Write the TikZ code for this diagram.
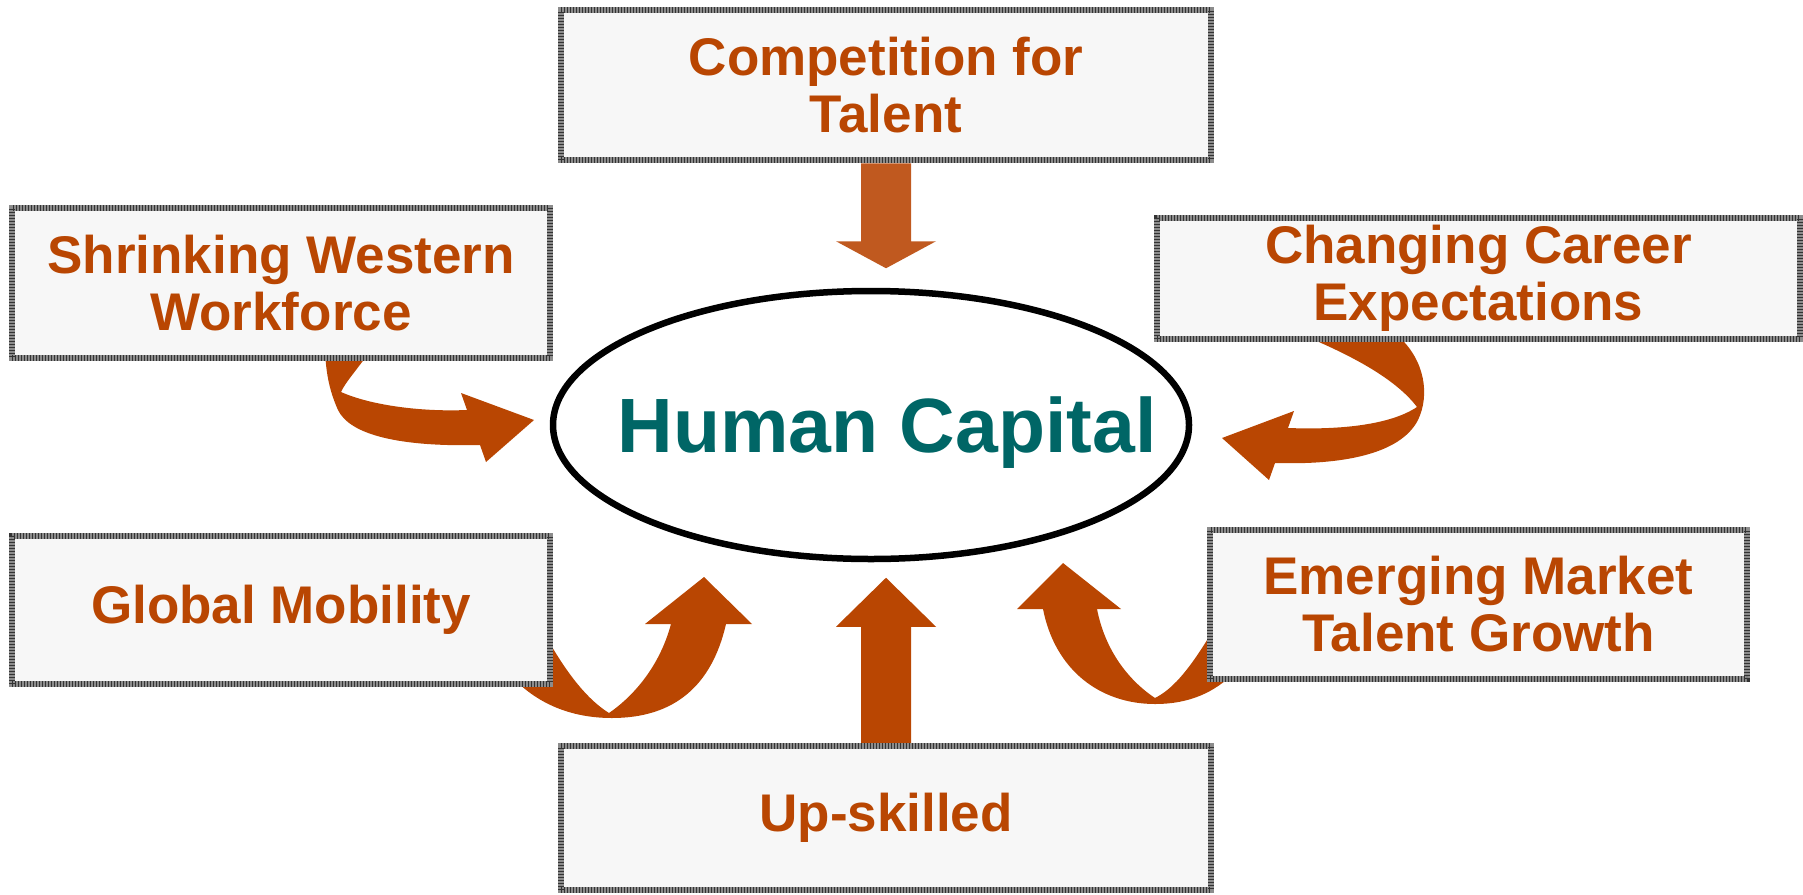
\documentclass[tikz,border=0pt]{standalone}
\usepackage{fontspec}
\setmainfont{Liberation Sans}
\usepackage{xcolor}
\usepackage{tikz}
\usetikzlibrary{shapes.geometric}
\usetikzlibrary{backgrounds}
\definecolor{rust}{HTML}{B94602}
\definecolor{rustlight}{HTML}{C0591F}
\definecolor{hcteal}{HTML}{006666}
\definecolor{boxfill}{HTML}{F7F7F7}
\definecolor{boxline}{HTML}{8C8C8C}
\tikzstyle{factor}=[draw=boxline, line width=6.5pt, fill=boxfill, inner sep=0pt, align=center, text=rust, font=\fontsize{53}{57}\selectfont\bfseries,
  postaction={draw=black!80, line width=6.5pt, dash pattern=on 1pt off 2pt}]
\tikzstyle{flow}=[fill=rust]
\tikzstyle{flowlight}=[fill=rustlight]

\begin{document}
\begin{tikzpicture}[x=1pt,y=-1pt]
\useasboundingbox (0,0) rectangle (1803,894);
% centre
\node[draw=black, line width=6.5pt, ellipse, minimum width=636pt, minimum height=268pt, inner sep=0pt] (hc) at (871,425) {};
\node[anchor=base, text=hcteal, font=\fontsize{77}{80}\selectfont\bfseries] (hctext) at (887,452) {Human Capital};
% the six drivers
\node[factor, minimum width=650pt, minimum height=150pt] (talent) at (886,85) {Competition for\\Talent};
\node[factor, minimum width=538pt, minimum height=150pt] (shrink) at (281,283) {Shrinking Western\\Workforce};
\node[factor, minimum width=643pt, minimum height=121pt] (career) at (1478.5,278.5) {Changing Career\\Expectations};
\node[factor, minimum width=538pt, minimum height=148pt] (mobility) at (281,610) {Global Mobility};
\node[factor, minimum width=537pt, minimum height=149pt] (emerging) at (1478.5,604.5) {Emerging Market\\Talent Growth};
\node[factor, minimum width=650pt, minimum height=144pt] (upskill) at (886,818) {Up-skilled};
% block arrows, tails tucked under the boxes
\begin{scope}[on background layer]
\fill[flowlight] ([xshift=-25pt]talent.south) -- ++(0,78) -- ++(-25,0) -- ++(50,27) -- ++(50,-27) -- ++(-25,0) -- ++(0,-78) -- cycle;
\fill[flow] ([xshift=-25pt]upskill.north) -- ++(0,-116) -- ++(-25,0) -- ++(50,-49) -- ++(50,49) -- ++(-25,0) -- ++(0,116) -- cycle;
\fill[flow] (371,350) .. controls (355,372) and (345,383) .. (341,392)
  .. controls (370,405) and (420,412) .. (467,410)
  -- (461,393) -- (534,420) -- (486,462) -- (480,445)
  .. controls (400,447) and (350,435) .. (338,410)
  .. controls (330,392) and (326,375) .. (325,350) -- cycle;
\fill[flow] (1305,336) .. controls (1350,355) and (1395,378) .. (1417,407)
  .. controls (1390,425) and (1340,430) .. (1288,428)
  -- (1294,411) -- (1222,438) -- (1269,480) -- (1275,463)
  .. controls (1340,465) and (1400,455) .. (1418,420)
  .. controls (1430,395) and (1425,360) .. (1398,336) -- cycle;
\fill[flow] (548,640) .. controls (568,675) and (588,700) .. (609,713)
  .. controls (635,695) and (660,665) .. (671,624)
  -- (645,624) -- (704,577) -- (752,624) -- (726,624)
  .. controls (712,685) and (675,718) .. (612,718)
  .. controls (570,718) and (538,703) .. (515,680) -- cycle;
\fill[flow] (1212,632) .. controls (1192,665) and (1175,688) .. (1155,698)
  .. controls (1128,680) and (1105,650) .. (1097,609)
  -- (1121,609) -- (1063,563) -- (1017,609) -- (1043,609)
  .. controls (1055,670) and (1100,704) .. (1155,704)
  .. controls (1190,704) and (1215,692) .. (1235,672) -- cycle;
\end{scope}
\end{tikzpicture}
\end{document}
